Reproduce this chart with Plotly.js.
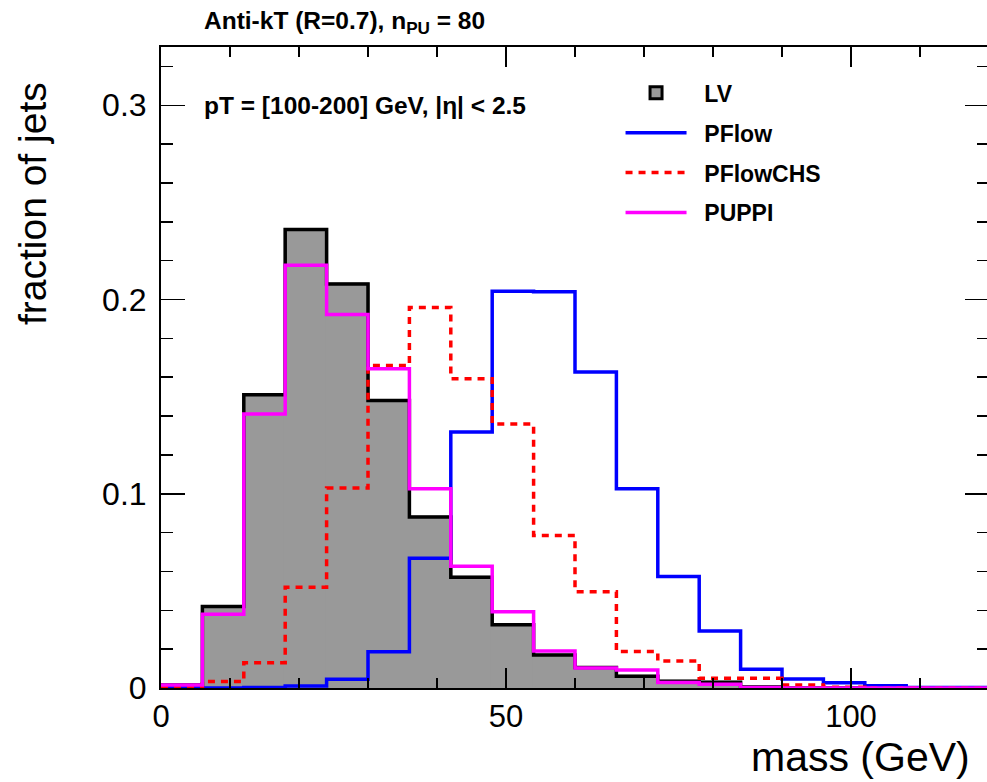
<!DOCTYPE html>
<html>
<head>
<meta charset="utf-8">
<script src="https://cdn.plot.ly/plotly-3.0.1.min.js"></script>
<style>
html,body{margin:0;padding:0;background:#fff;overflow:hidden;}
#chart{width:989px;height:782px;}
</style>
</head>
<body>
<div id="chart"></div>
<script>
// bin lower edges (GeV), bin width 6 GeV
const binLow = [0,6,12,18,24,30,36,42,48,54,60,66,72,78,84,90,96,102,108,114];
const binWidth = 6;
const xMax = 120;

// fraction of jets per bin
const LV       = [0.0015,0.042,0.151,0.236,0.208,0.148,0.088,0.057,0.0325,0.017,0.0105,0.006,0.0035,0.003,0.0005,0,0,0,0,0];
const PFlow    = [0,0,0.0003,0.001,0.0045,0.0187,0.0668,0.1318,0.2043,0.2040,0.1627,0.1026,0.0574,0.0294,0.0096,0.0046,0.0027,0.0012,0.0003,0.0002];
const PFlowCHS = [0.0007,0.0033,0.013,0.0519,0.1029,0.166,0.1959,0.1592,0.1359,0.0785,0.0496,0.0188,0.0139,0.005,0.005,0.0015,0.0004,0,0,0];
const PUPPI    = [0.0015,0.038,0.141,0.2177,0.1923,0.1644,0.1026,0.0627,0.0393,0.019,0.0103,0.0093,0.0028,0.0019,0.0002,0,0,0,0,0];

const seriesNames = ['LV','PFlow','PFlowCHS','PUPPI'];
const xTickVals = [0,50,100];
const yTickVals = [0,0.1,0.2,0.3];

const FONT = 'Liberation Sans, Arial, Helvetica, sans-serif';
const PAD = '\u00a0\u00a0';

function stepX(){ return binLow.concat([xMax]); }
function stepY(v){ return v.concat([v[v.length-1]]); }

// LV filled histogram (bars, reversed so the legend swatch takes the black outline of an empty bin)
const lvRevX = binLow.slice().reverse();
const lvRevY = LV.slice().reverse();
const lvLineCols = lvRevY.map((v,i)=> i===0 ? 'black' : '#999999');

const traces = [
  {type:'bar', x:lvRevX, y:lvRevY, width:binWidth, offset:0, name:PAD+'<b>'+seriesNames[0]+'</b>',
   legendgroup:'g0', marker:{color:'#999999', line:{color:lvLineCols, width:3}}, hoverinfo:'skip'},
  {type:'scatter', mode:'lines', x:stepX(), y:stepY(LV), line:{shape:'hv', color:'black', width:3.5},
   showlegend:false, legendgroup:'g0', hoverinfo:'skip'},
  {type:'scatter', mode:'lines', x:stepX(), y:stepY(PFlow), name:PAD+'<b>'+seriesNames[1]+'</b>', legendgroup:'g1',
   line:{shape:'hv', color:'#0000ff', width:3.5}},
  {type:'scatter', mode:'lines', x:stepX(), y:stepY(PFlowCHS), name:PAD+'<b>'+seriesNames[2]+'</b>', legendgroup:'g2',
   line:{shape:'hv', color:'#ff0000', width:3.5, dash:'7px,6px'}},
  {type:'scatter', mode:'lines', x:stepX(), y:stepY(PUPPI), name:PAD+'<b>'+seriesNames[3]+'</b>', legendgroup:'g3',
   line:{shape:'hv', color:'#ff00ff', width:3.5}}
];

const layout = {
  width:989, height:782,
  margin:{l:161, r:0, t:47, b:94, pad:0},
  paper_bgcolor:'white', plot_bgcolor:'white',
  font:{family:FONT, color:'black'},
  bargap:0, barmode:'overlay',
  showlegend:true,
  legend:{x:0.555, y:0.962, xanchor:'left', yanchor:'top', bgcolor:'rgba(0,0,0,0)',
          font:{family:FONT, size:23, color:'black'}, itemwidth:61, tracegroupgap:7,
          traceorder:'grouped'},
  xaxis:{range:[0,xMax], tickvals:xTickVals, ticktext:xTickVals.map(String), ticks:'inside', ticklen:20, tickwidth:1.5,
         tickcolor:'black', showline:true, linecolor:'black', linewidth:2, mirror:'allticks',
         showgrid:false, zeroline:false, tickfont:{family:FONT, size:31, color:'black'},
         minor:{dtick:10, ticks:'inside', ticklen:10, tickwidth:1.5, tickcolor:'black', showgrid:false}},
  yaxis:{range:[0,0.33], tickvals:yTickVals, ticktext:['0','0.1','0.2','0.3'], ticks:'inside', ticklen:24, tickwidth:1.5,
         tickcolor:'black', showline:true, linecolor:'black', linewidth:2, mirror:'allticks',
         showgrid:false, zeroline:false, tickfont:{family:FONT, size:32, color:'black'}, ticklabelstandoff:6,
         minor:{dtick:0.02, ticks:'inside', ticklen:12, tickwidth:1.5, tickcolor:'black', showgrid:false}},
  annotations:[
    {xref:'paper', yref:'paper', x:0.049, y:1.038, xanchor:'left', yanchor:'middle', showarrow:false,
     text:'<b>Anti-kT (R=0.7), n<sub>PU</sub> = 80</b>', font:{family:FONT, size:24.5, color:'black'}},
    {xref:'paper', yref:'paper', x:0.05, y:0.908, xanchor:'left', yanchor:'middle', showarrow:false,
     text:'<b>pT = [100-200] GeV, |η| < 2.5</b>', font:{family:FONT, size:24.5, color:'black'}},
    {xref:'paper', yref:'paper', x:0.9795, y:-0.107, xanchor:'right', yanchor:'middle', showarrow:false,
     text:'mass (GeV)', font:{family:FONT, size:41, color:'black'}},
    {xref:'paper', yref:'paper', x:-0.155, y:0.756, xanchor:'center', yanchor:'middle', showarrow:false, textangle:-90,
     text:'fraction of jets', font:{family:FONT, size:39, color:'black'}}
  ]
};

Plotly.newPlot('chart', traces, layout, {displayModeBar:false, staticPlot:true});
</script>
</body>
</html>
